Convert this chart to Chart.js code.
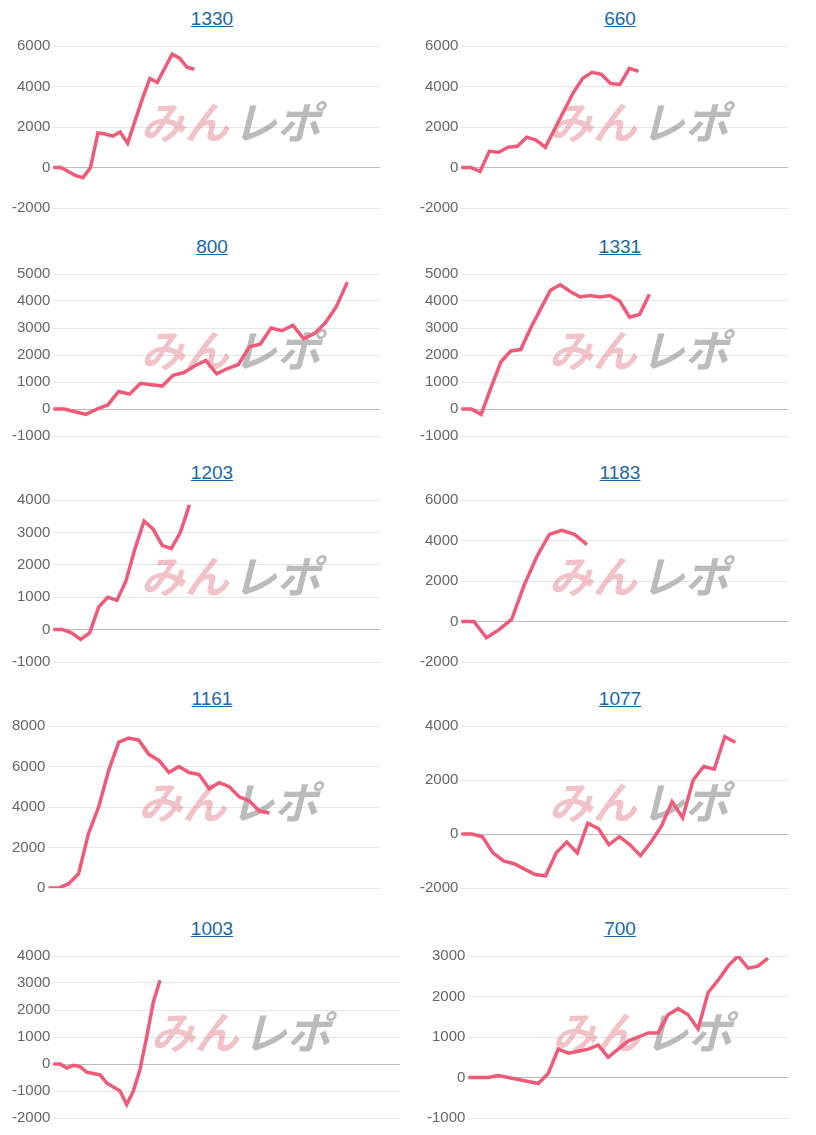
<!DOCTYPE html>
<html>
<head>
<meta charset="utf-8">
<script src="https://cdn.jsdelivr.net/npm/chart.js@4"></script>
<style>
  body { margin: 0; background: #fff; font-family: Arial, "Liberation Sans", sans-serif; }
  .cell { position: absolute; width: 408px; height: 228px; }
  .title { position: absolute; top: 8px; left: 8px; width: 100%; text-align: center; font-size: 19px; color: #1a67a8; text-decoration: underline; }
  .box { position: absolute; top: 34px; left: 0; width: 400px; height: 186px; }
</style>
</head>
<body>
<div id="wrap"></div>
<script>
// each chart: name, label count, values, y range
const titles = ['1330', '660', '800', '1331', '1203', '1183', '1161', '1077', '1003', '700'];
const labelCounts = [45, 36, 31, 34, 37, 27, 34, 32, 53, 33];
const s1330 = [0, 0, -200, -400, -500, 0, 1700, 1650, 1550, 1750, 1200, 2300, 3400, 4400, 4200, 4900, 5600, 5400, 4950, 4850];
const s660 = [0, 0, -200, 800, 750, 1000, 1050, 1500, 1350, 1000, 1900, 2800, 3700, 4400, 4700, 4600, 4150, 4100, 4900, 4750];
const s800 = [0, 0, -100, -200, 0, 150, 650, 550, 950, 900, 850, 1250, 1350, 1600, 1800, 1300, 1500, 1650, 2300, 2400, 3000, 2900, 3100, 2600, 2800, 3200, 3800, 4700];
const s1331 = [0, 0, -200, 800, 1750, 2150, 2200, 3000, 3700, 4400, 4600, 4350, 4150, 4200, 4150, 4200, 4000, 3400, 3500, 4250];
const s1203 = [0, 0, -100, -300, -100, 700, 1000, 900, 1500, 2500, 3350, 3100, 2600, 2500, 3000, 3850];
const s1183 = [0, 0, -800, -400, 100, 1800, 3200, 4300, 4500, 4300, 3800];
const s1161 = [0, 0, 200, 700, 2700, 4000, 5800, 7200, 7400, 7300, 6600, 6300, 5700, 6000, 5700, 5600, 4900, 5200, 5000, 4500, 4300, 3800, 3700];
const s1077 = [0, 0, -100, -700, -1000, -1100, -1300, -1500, -1550, -700, -300, -700, 400, 200, -400, -100, -400, -800, -300, 300, 1200, 600, 2000, 2500, 2400, 3600, 3400];
const s1003 = [0, 0, -150, -50, -100, -300, -350, -400, -700, -850, -1000, -1500, -1000, -200, 1000, 2300, 3100];
const s700 = [0, 0, 0, 50, 0, -50, -100, -150, 100, 700, 600, 650, 700, 800, 500, 700, 900, 1000, 1100, 1100, 1550, 1700, 1550, 1200, 2100, 2400, 2750, 3000, 2700, 2750, 2950];
const series = [s1330, s660, s800, s1331, s1203, s1183, s1161, s1077, s1003, s700];
const yMins = [-2000, -2000, -1000, -1000, -1000, -2000, 0, -2000, -2000, -1000];
const yMaxs = [6000, 6000, 5000, 5000, 4000, 6000, 8000, 4000, 4000, 3000];
const ySteps = [2000, 2000, 1000, 1000, 1000, 2000, 2000, 2000, 1000, 1000];

const rowTops = [0, 228, 454, 680, 910];

const watermark = {
  id: 'watermark',
  beforeDatasetsDraw(chart) {
    const a = chart.chartArea;
    const c = chart.ctx;
    const cx = (a.left + a.right) / 2 + 12;
    const cy = a.top + (a.bottom - a.top) * 0.47;
    c.save();
    c.font = 'bold italic 44px "Noto Sans CJK JP"';
    c.textBaseline = 'middle';
    c.textAlign = 'right';
    c.fillStyle = 'rgba(225,120,130,0.45)';
    c.fillText('みん', cx, cy);
    c.textAlign = 'left';
    c.fillStyle = 'rgba(150,150,150,0.65)';
    c.fillText('レポ', cx + 4, cy);
    c.restore();
  }
};

const wrap = document.getElementById('wrap');
titles.forEach((t, i) => {
  const cell = document.createElement('div');
  cell.className = 'cell';
  cell.style.left = (i % 2 ? 408 : 0) + 'px';
  cell.style.top = rowTops[Math.floor(i / 2)] + 'px';
  cell.innerHTML = '<div class="title">' + t + '</div><div class="box"><canvas></canvas></div>';
  wrap.appendChild(cell);
  const labels = Array.from({ length: labelCounts[i] }, (_, k) => k + 1);
  new Chart(cell.querySelector('canvas'), {
    type: 'line',
    data: {
      labels: labels,
      datasets: [{
        data: series[i],
        borderColor: '#ee5a78',
        borderWidth: 3.5,
        pointRadius: 0,
        tension: 0,
        fill: false
      }]
    },
    options: {
      responsive: true,
      maintainAspectRatio: false,
      animation: false,
      layout: { padding: { left: i === 9 ? 16 : 9, right: i === 8 ? 0 : 20, top: 4 } },
      plugins: { legend: { display: false }, tooltip: { enabled: false } },
      scales: {
        x: {
          ticks: { display: false },
          grid: { display: false },
          border: { color: '#e6e6e6' }
        },
        y: {
          min: yMins[i],
          max: yMaxs[i],
          ticks: { stepSize: ySteps[i], color: '#666', font: { size: 15 }, callback: v => String(v) },
          grid: {
            color: ctx => ctx.tick.value === 0 ? '#bbbbbb' : '#e6e6e6',
            drawTicks: false
          },
          border: { display: false }
        }
      }
    },
    plugins: [watermark]
  });
});
</script>
</body>
</html>
